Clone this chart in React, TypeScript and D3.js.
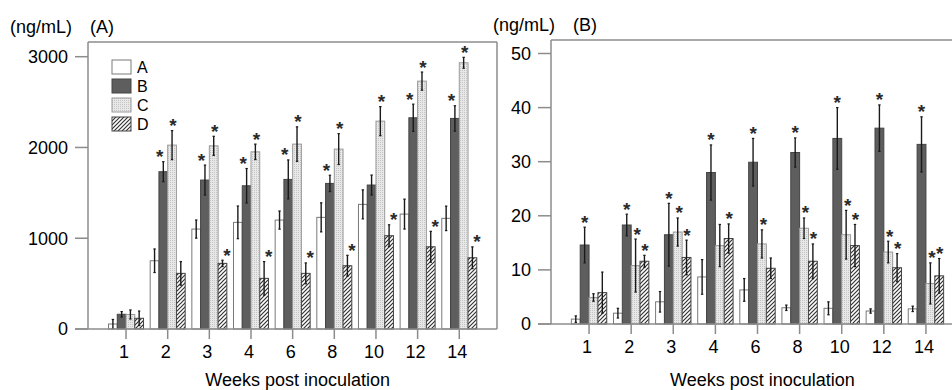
import * as d3 from 'd3';

const weeks = ['1', '2', '3', '4', '6', '8', '10', '12', '14'];
const seriesKeys = ['A', 'B', 'C', 'D'];

// panel (A), ng/mL
const meanA_A = [55, 752, 1101, 1175, 1200, 1230, 1373, 1266, 1219];
const errA_A = [50, 130, 100, 180, 100, 160, 160, 165, 135];
const meanA_B = [162, 1733, 1641, 1578, 1648, 1604, 1586, 2327, 2320];
const errA_B = [30, 110, 165, 190, 215, 90, 110, 150, 140];
const meanA_C = [160, 2026, 2018, 1952, 2037, 1982, 2290, 2731, 2933];
const errA_C = [50, 160, 105, 85, 190, 170, 160, 100, 60];
const meanA_D = [118, 613, 723, 558, 613, 697, 1028, 906, 785];
const errA_D = [80, 130, 35, 185, 115, 115, 120, 170, 120];
const starA_A = [0, 0, 0, 0, 0, 0, 0, 0, 0];
const starA_B = [0, 1, 1, 1, 1, 1, 0, 1, 1];
const starA_C = [0, 1, 1, 1, 1, 1, 1, 1, 1];
const starA_D = [0, 0, 1, 1, 1, 1, 1, 1, 1];
const ticksA = [0, 1000, 2000, 3000];

// panel (B), ng/mL
const meanB_A = [0.9, 2.0, 4.1, 8.7, 6.3, 3.0, 2.9, 2.4, 2.8];
const errB_A = [0.6, 0.9, 1.9, 3.2, 2.1, 0.5, 1.2, 0.4, 0.5];
const meanB_B = [14.6, 18.3, 16.5, 28.0, 29.9, 31.7, 34.3, 36.2, 33.2];
const errB_B = [3.3, 2.0, 5.8, 5.1, 4.4, 2.7, 5.7, 4.3, 5.1];
const meanB_C = [4.9, 10.8, 17.0, 14.5, 14.8, 17.7, 16.5, 13.3, 7.5];
const errB_C = [0.7, 4.9, 2.6, 3.9, 2.6, 1.9, 4.5, 2.0, 3.8];
const meanB_D = [5.8, 11.6, 12.3, 15.8, 10.3, 11.6, 14.5, 10.4, 8.9];
const errB_D = [3.8, 1.1, 3.2, 2.7, 1.9, 3.2, 3.9, 2.6, 3.2];
const starB_A = [0, 0, 0, 0, 0, 0, 0, 0, 0];
const starB_B = [1, 1, 1, 1, 1, 1, 1, 1, 1];
const starB_C = [0, 1, 1, 0, 1, 1, 1, 1, 1];
const starB_D = [0, 1, 1, 1, 0, 1, 1, 1, 1];
const ticksB = [0, 10, 20, 30, 40, 50];

const FONT = '"Liberation Sans", Arial, sans-serif';
const FRAME = '#8c8c8c';
const fills = ['#ffffff', '#5e5e5e', 'url(#dots)', 'url(#hatch)'];
const strokes = ['#7a7a7a', '#444', '#9a9a9a', '#444'];

type Panel = {
  means: number[][];
  errs: number[][];
  stars: number[][];
  ticks: number[];
  tag: string;
  unitX: number;
  tagX: number;
  axisX: number;
  rightX: number | null;
  frameRight: number;
  topY: number;
  zeroY: number;
  topTickY: number;
  xRange: [number, number];
  starShift: number[];
  legend: boolean;
};

const panels: Panel[] = [
  {
    means: [meanA_A, meanA_B, meanA_C, meanA_D],
    errs: [errA_A, errA_B, errA_C, errA_D],
    stars: [starA_A, starA_B, starA_C, starA_D],
    ticks: ticksA,
    tag: '(A)',
    unitX: 10,
    tagX: 90,
    axisX: 88,
    rightX: 497,
    frameRight: 497,
    topY: 42,
    zeroY: 329,
    topTickY: 56.7,
    xRange: [105.2, 480.1],
    starShift: [0, -3.5, 1, 4.5],
    legend: true,
  },
  {
    means: [meanB_A, meanB_B, meanB_C, meanB_D],
    errs: [errB_A, errB_B, errB_C, errB_D],
    stars: [starB_A, starB_B, starB_C, starB_D],
    ticks: ticksB,
    tag: '(B)',
    unitX: 493,
    tagX: 573,
    axisX: 551,
    rightX: null,
    frameRight: 952,
    topY: 40,
    zeroY: 324,
    topTickY: 53.5,
    xRange: [568, 947],
    starShift: [0, 0, 1.5, 0.5],
    legend: false,
  },
];

const BarPanel = ({ p }: { p: Panel }) => {
  const maxTick = p.ticks[p.ticks.length - 1];
  const y = d3.scaleLinear().domain([0, maxTick]).range([p.zeroY, p.topTickY]);
  const x = d3.scaleBand().domain(weeks).range(p.xRange).paddingInner(0.16).paddingOuter(0.08);
  const xs = d3.scaleBand().domain(seriesKeys).range([0, x.bandwidth()]);
  const bw = xs.bandwidth();
  const midX = (p.xRange[0] + p.xRange[1]) / 2;

  return (
    <g fontFamily={FONT}>
      <text x={p.unitX} y={p.topY - 9} fontSize={18}>(ng/mL)</text>
      <text x={p.tagX} y={p.topY - 9} fontSize={18}>{p.tag}</text>

      {/* frame */}
      <line x1={p.axisX} x2={p.frameRight} y1={p.topY} y2={p.topY} stroke={FRAME} strokeWidth={1.5} />
      <line x1={p.axisX} x2={p.axisX} y1={p.topY} y2={p.zeroY} stroke={FRAME} strokeWidth={1.5} />
      {p.rightX !== null && (
        <line x1={p.rightX} x2={p.rightX} y1={p.topY} y2={p.zeroY} stroke={FRAME} strokeWidth={1.5} />
      )}

      {p.ticks.map((t) => (
        <g key={t}>
          <line x1={p.axisX - 13} x2={p.axisX} y1={y(t)} y2={y(t)} stroke={FRAME} strokeWidth={1.5} />
          <text x={p.axisX - 20} y={y(t)} dy="0.36em" textAnchor="end" fontSize={18}>{t}</text>
        </g>
      ))}

      {seriesKeys.map((s, si) =>
        weeks.map((w, i) => {
          const v = p.means[si][i];
          const e = p.errs[si][i];
          const bx = (x(w) as number) + (xs(s) as number);
          const cx = bx + bw / 2;
          const lo = y(Math.max(0, v - e));
          const hi = y(v + e);
          return (
            <g key={s + w}>
              <rect x={bx} y={y(v)} width={bw} height={p.zeroY - y(v)} fill={fills[si]} stroke={strokes[si]} strokeWidth={1} />
              <line x1={cx} x2={cx} y1={hi} y2={lo} stroke="#1a1a1a" strokeWidth={1.4} />
              <line x1={cx - 1.2} x2={cx + 1.2} y1={hi} y2={hi} stroke="#1a1a1a" strokeWidth={1.2} />
              <line x1={cx - 1.2} x2={cx + 1.2} y1={lo} y2={lo} stroke="#1a1a1a" strokeWidth={1.2} />
              {p.stars[si][i] ? (
                <text x={cx + p.starShift[si]} y={hi + 1.5} textAnchor="middle" fontSize={19} fontWeight="bold" fill="#2a2a2a">*</text>
              ) : null}
            </g>
          );
        })
      )}

      {/* baseline + x ticks */}
      <line x1={p.axisX - 13} x2={p.frameRight} y1={p.zeroY} y2={p.zeroY} stroke={FRAME} strokeWidth={1.5} />
      {weeks.map((w) => {
        const cx = (x(w) as number) + x.bandwidth() / 2;
        return (
          <g key={w}>
            <line x1={cx} x2={cx} y1={p.zeroY} y2={p.zeroY + 10} stroke={FRAME} strokeWidth={1.5} />
            <text x={cx - 2} y={p.zeroY + 29} textAnchor="middle" fontSize={18}>{w}</text>
          </g>
        );
      })}
      <text x={midX + 5} y={386} textAnchor="middle" fontSize={18}>Weeks post inoculation</text>

      {p.legend &&
        seriesKeys.map((s, si) => (
          <g key={s} transform={`translate(112,${60 + si * 19})`}>
            <rect width={19} height={14} fill={fills[si]} stroke={strokes[si]} strokeWidth={1} />
            <text x={25} y={12.5} fontSize={16}>{s}</text>
          </g>
        ))}
    </g>
  );
};

export default function App() {
  return (
    <svg
      width={952}
      height={390}
      style={{ position: 'absolute', left: 0, top: 0, background: '#fff' }}
    >
      <defs>
        <pattern id="dots" patternUnits="userSpaceOnUse" width={2} height={2}>
          <rect width={2} height={2} fill="#e8e8e8" />
          <rect width={1} height={1} fill="#c4c4c4" />
        </pattern>
        <pattern id="hatch" patternUnits="userSpaceOnUse" width={4} height={4}>
          <rect width={4} height={4} fill="#fff" />
          <path d="M-1,1 l2,-2 M0,4 l4,-4 M3,5 l2,-2" stroke="#333" strokeWidth={1.2} />
        </pattern>
      </defs>
      {panels.map((p) => (
        <BarPanel key={p.tag} p={p} />
      ))}
    </svg>
  );
}
